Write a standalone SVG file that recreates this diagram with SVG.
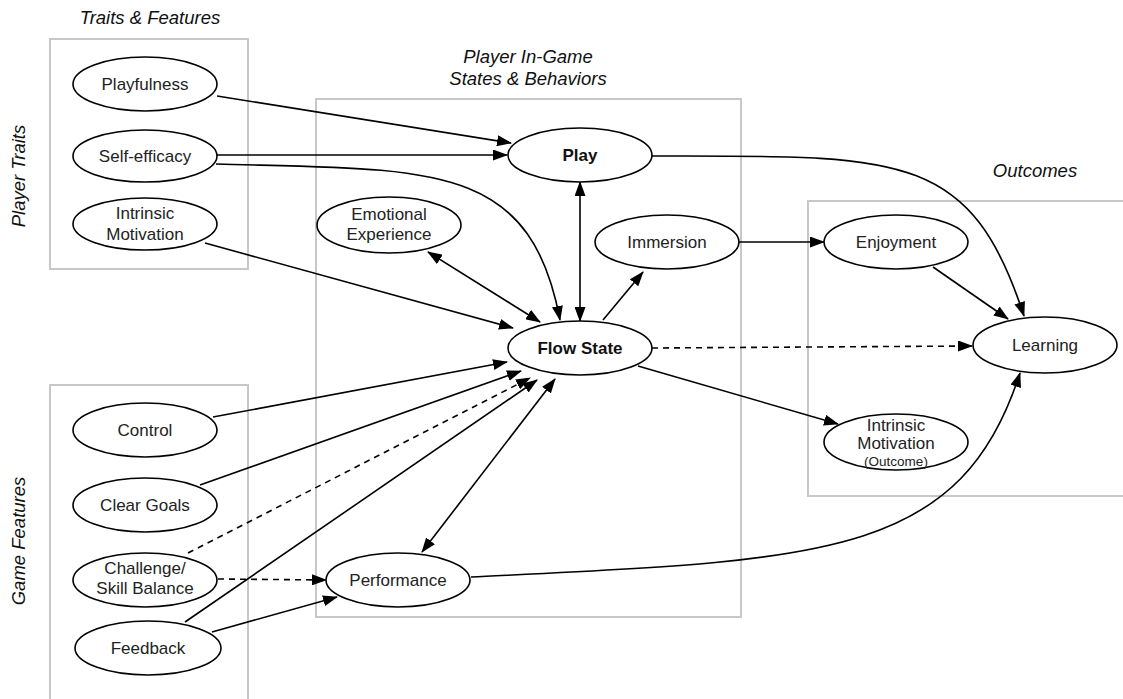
<svg xmlns="http://www.w3.org/2000/svg" width="1123" height="699" viewBox="0 0 1123 699">
<style>
.box{fill:none;stroke:#c8c8c8;stroke-width:2}
.node ellipse{fill:#fff;stroke:#000;stroke-width:1.6}
.t{font-family:"Liberation Sans",Arial,sans-serif;font-size:17px;fill:#222;text-anchor:middle}
.b{font-weight:bold;fill:#111}
.s{font-size:13.5px}
.title{font-family:"Liberation Sans",Arial,sans-serif;font-size:18.5px;font-style:italic;fill:#111;text-anchor:middle}
.e{fill:none;stroke:#000;stroke-width:1.6}
.d{stroke-dasharray:6,5}
</style>
<defs>
<marker id="ah" markerUnits="userSpaceOnUse" markerWidth="15" markerHeight="11" refX="14" refY="5.5" orient="auto-start-reverse" viewBox="0 0 15 11">
<path d="M0,0 L15,5.5 L0,11 z" fill="#000"/>
</marker>
</defs>
<rect width="1123" height="699" fill="#fff"/>
<g id="groups">
<rect class="box" x="50" y="39" width="198" height="230"/>
<rect class="box" x="50" y="385" width="198" height="330"/>
<rect class="box" x="316" y="99" width="425" height="518"/>
<rect class="box" x="808" y="201" width="330" height="295"/>
<text class="title" x="150" y="24">Traits &amp; Features</text>
<text class="title" x="528" y="63">Player In-Game</text>
<text class="title" x="528" y="85">States &amp; Behaviors</text>
<text class="title" x="1035" y="177">Outcomes</text>
<text class="title" transform="translate(25,176) rotate(-90)">Player Traits</text>
<text class="title" transform="translate(25,541) rotate(-90)">Game Features</text>
</g>
<g id="connectors">
<path class="e" d="M217,96 L511,143" marker-end="url(#ah)"/>
<path class="e" d="M217,155 L507,155" marker-end="url(#ah)"/>
<path class="e" d="M216,164 C430,170 530,160 560,320" marker-end="url(#ah)"/>
<path class="e" d="M205,243 L513,328" marker-end="url(#ah)"/>
<path class="e" d="M428,252 L540,322" marker-start="url(#ah)" marker-end="url(#ah)"/>
<path class="e" d="M580,182 L580,321" marker-start="url(#ah)" marker-end="url(#ah)"/>
<path class="e" d="M603,320 L643,272" marker-end="url(#ah)"/>
<path class="e" d="M739,242 L824,242" marker-end="url(#ah)"/>
<path class="e" d="M933,267 L1008,319" marker-end="url(#ah)"/>
<path class="e" d="M652,156 C900,156 970,150 1024,316" marker-end="url(#ah)"/>
<path class="e d" d="M652,348 L972,346" marker-end="url(#ah)"/>
<path class="e" d="M638,366 L838,424" marker-end="url(#ah)"/>
<path class="e" d="M213,417 L507,362" marker-end="url(#ah)"/>
<path class="e" d="M200,485 L521,371" marker-end="url(#ah)"/>
<path class="e d" d="M188,553 L530,378" marker-end="url(#ah)"/>
<path class="e" d="M185,622 L537,380" marker-end="url(#ah)"/>
<path class="e" d="M422,552 L555,379" marker-start="url(#ah)" marker-end="url(#ah)"/>
<path class="e d" d="M218,579 L326,580" marker-end="url(#ah)"/>
<path class="e" d="M212,632 L337,597" marker-end="url(#ah)"/>
<path class="e" d="M471,577 C820,560 960,560 1020,373" marker-end="url(#ah)"/>
</g>
<g id="playfulness" class="node"><ellipse cx="145" cy="84" rx="72" ry="27"/><text class="t" x="145" y="90">Playfulness</text></g>
<g id="self-efficacy" class="node"><ellipse cx="145" cy="156" rx="72" ry="26"/><text class="t" x="145" y="162">Self-efficacy</text></g>
<g id="intrinsic-motivation" class="node"><ellipse cx="145" cy="224" rx="72" ry="26"/><text class="t" x="145" y="219">Intrinsic</text><text class="t" x="145" y="240">Motivation</text></g>
<g id="control" class="node"><ellipse cx="145" cy="430" rx="72" ry="27"/><text class="t" x="145" y="436">Control</text></g>
<g id="clear-goals" class="node"><ellipse cx="145" cy="505" rx="72" ry="27"/><text class="t" x="145" y="511">Clear Goals</text></g>
<g id="challenge" class="node"><ellipse cx="145" cy="580" rx="72" ry="27"/><text class="t" x="145" y="574">Challenge/</text><text class="t" x="145" y="594">Skill Balance</text></g>
<g id="feedback" class="node"><ellipse cx="148" cy="648" rx="73" ry="27"/><text class="t" x="148" y="654">Feedback</text></g>
<g id="play" class="node"><ellipse cx="580" cy="155" rx="72" ry="27"/><text class="t b" x="580" y="161">Play</text></g>
<g id="emotional-experience" class="node"><ellipse cx="389" cy="225" rx="72" ry="28"/><text class="t" x="389" y="220">Emotional</text><text class="t" x="389" y="240">Experience</text></g>
<g id="immersion" class="node"><ellipse cx="667" cy="242" rx="72" ry="27"/><text class="t" x="667" y="248">Immersion</text></g>
<g id="flow-state" class="node"><ellipse cx="580" cy="348" rx="72" ry="27"/><text class="t b" x="580" y="354">Flow State</text></g>
<g id="performance" class="node"><ellipse cx="398" cy="580" rx="72" ry="27"/><text class="t" x="398" y="586">Performance</text></g>
<g id="enjoyment" class="node"><ellipse cx="896" cy="242" rx="72" ry="27"/><text class="t" x="896" y="248">Enjoyment</text></g>
<g id="learning" class="node"><ellipse cx="1045" cy="345" rx="72" ry="28"/><text class="t" x="1045" y="351">Learning</text></g>
<g id="intrinsic-outcome" class="node"><ellipse cx="896" cy="442" rx="72" ry="28"/><text class="t" x="896" y="431">Intrinsic</text><text class="t" x="896" y="449">Motivation</text><text class="t s" x="896" y="466">(Outcome)</text></g>
</svg>
